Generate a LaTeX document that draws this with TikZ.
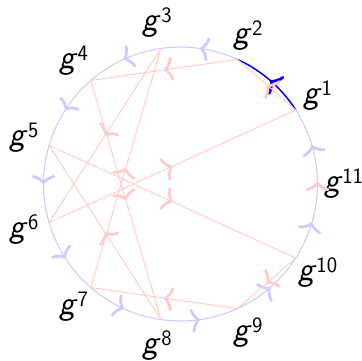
\documentclass[tikz,border=0pt]{standalone}
\usetikzlibrary{decorations.markings,arrows.meta}
\tikzset{
  mytip/.tip={Classical TikZ Rightarrow[width=24pt,length=9pt,line width=2.8pt]},
  midarrow/.style={postaction={decorate},decoration={markings,mark=at position 0.5 with {\arrow{mytip}}}},
  bluearc/.style={color=blue!20,line width=1.1pt,midarrow},
  darkarc/.style={color=blue,line width=1.5pt,midarrow},
  redchord/.style={color=red!20,line width=1pt,midarrow},
  glabel/.style={font=\fontsize{34}{40}\selectfont\sffamily,inner sep=0pt}
}
\newcommand{\gpow}[1]{\textit{g}\raisebox{8pt}{\fontsize{22}{22}\selectfont #1}}
\begin{document}
\begin{tikzpicture}[x=1pt,y=1pt]
\useasboundingbox (-180.5,-177) rectangle (181.5,184);
\def\R{137}
\foreach \k in {1,...,11}{
  \coordinate (p\k) at ({\k*360/11}:\R);
  \node[glabel] (l\k) at ({\k*360/11}:163) {\gpow{\k}};
}
% cycle arcs g^k -> g^{k+1}
\foreach \k in {2,...,11}{
  \pgfmathsetmacro{\a}{\k*360/11}
  \draw[bluearc] (p\k) arc[start angle=\a, delta angle=360/11, radius=\R];
}
\draw[darkarc] (p1) arc[start angle=360/11, delta angle=360/11, radius=\R];
% squaring chords g^k -> g^{2k}
\foreach \k/\j in {1/2,2/4,3/6,4/8,5/10,6/1,7/3,8/5,9/7,10/9}{
  \draw[redchord] (p\k) -- (p\j);
}
\draw[redchord] ([yshift=1.5pt]p11) -- ([yshift=2.5pt]p11);
\end{tikzpicture}
\end{document}
